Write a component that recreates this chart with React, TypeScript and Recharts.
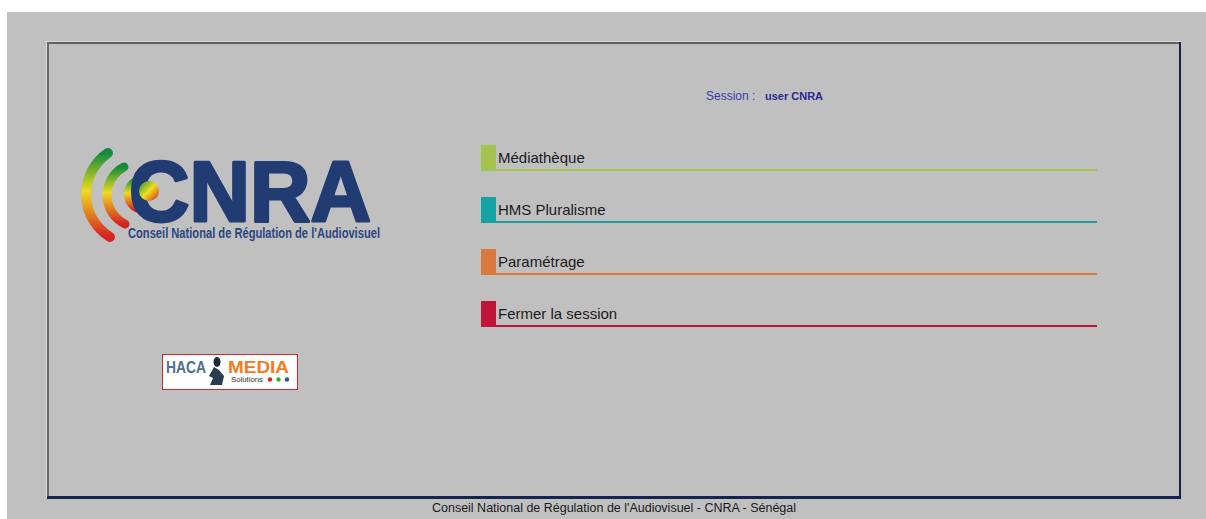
import React from "react";
import { BarChart, Bar, XAxis, YAxis } from "recharts";

const menuLabels = ["Médiathèque", "HMS Pluralisme", "Paramétrage", "Fermer la session"];
const menuColors = ["#a6c350", "#15a2a2", "#d97a3c", "#c01538"];
const menuValues = [1, 1, 1, 1];

const menuData = menuLabels.map((label, i) => ({
  label,
  value: menuValues[i],
  color: menuColors[i],
}));

const sans = "'Liberation Sans', Arial, sans-serif";

function MenuShape(props: any) {
  const { x, y, width, height, payload } = props;
  return (
    <g>
      <rect x={x} y={y} width={15} height={height} fill={payload.color} />
      <rect x={x} y={y + height - 2} width={width} height={2} fill={payload.color} />
      <text x={x + 17} y={y + 18} fontFamily={sans} fontSize={15} fill="#1b1b1b">
        {payload.label}
      </text>
    </g>
  );
}

function Backdrop() {
  return (
    <svg width={1206} height={519} style={{ position: "absolute", left: 0, top: 0 }}>
      <defs>
        <linearGradient id="arcGrad" x1="0" y1="0" x2="0" y2="1">
          <stop offset="0%" stopColor="#138a3c" />
          <stop offset="45%" stopColor="#eedc1e" />
          <stop offset="100%" stopColor="#d42222" />
        </linearGradient>
        <linearGradient id="ballGrad" x1="0" y1="0" x2="1" y2="1">
          <stop offset="0%" stopColor="#1a9040" />
          <stop offset="50%" stopColor="#f0e020" />
          <stop offset="100%" stopColor="#d42020" />
        </linearGradient>
      </defs>
      <rect x={0} y={0} width={1206} height={519} fill="#ffffff" />
      <rect x={7} y={12} width={1199} height={507} fill="#c0c0c0" />

      {/* frame */}
      <rect x={46} y={41} width={1135} height={1} fill="#d8d8d8" />
      <rect x={46} y={41} width={1} height={457} fill="#d8d8d8" />
      <rect x={47} y={42} width={1133} height={2} fill="#616161" />
      <rect x={47} y={42} width={2} height={455} fill="#6a6a6a" />
      <rect x={1179} y={42} width={2} height={457} fill="#14244a" />
      <rect x={47} y={496} width={1134} height={3} fill="#14244a" />

      {/* session */}
      <text x={706} y={100} fontFamily={sans} fontSize={12} fill="#3c3ca8">
        Session :
      </text>
      <text x={765} y={100} fontFamily={sans} fontSize={11} fontWeight="bold" fill="#2a2a90">
        user CNRA
      </text>

      {/* CNRA logo */}
      <path d="M 108 153 A 50 50 0 0 0 110 237" stroke="url(#arcGrad)" strokeWidth={10} fill="none" strokeLinecap="round" />
      <path d="M 124 167 A 32 32 0 0 0 125 224" stroke="url(#arcGrad)" strokeWidth={9} fill="none" strokeLinecap="round" />
      <path d="M 139 179 A 16 16 0 0 0 140 210" stroke="url(#arcGrad)" strokeWidth={7} fill="none" strokeLinecap="round" />
      <text x={129} y={221} fontFamily={sans} fontSize={86} fontWeight="bold" fill="#213b73" stroke="#213b73" strokeWidth={3} strokeLinejoin="round" textLength={242} lengthAdjust="spacingAndGlyphs">
        CNRA
      </text>
      <circle cx={149} cy={191} r={10} fill="url(#ballGrad)" />
      <text x={128} y={238} fontFamily="'Liberation Sans Narrow', 'Liberation Sans', sans-serif" fontSize={14} fontWeight="bold" fill="#2b4680" textLength={252} lengthAdjust="spacingAndGlyphs">
        Conseil National de Régulation de l'Audiovisuel
      </text>

      {/* HACA MEDIA logo */}
      <rect x={162.5} y={354.5} width={135} height={35} fill="#ffffff" stroke="#d22a2a" />
      <text x={166} y={373} fontFamily={sans} fontSize={17} fontWeight="bold" fill="#4d7090" textLength={40} lengthAdjust="spacingAndGlyphs">
        HACA
      </text>
      <ellipse cx={217} cy={362} rx={3.5} ry={5} fill="#1c2a3a" />
      <path d="M 214 367 L 209 376 L 213 378 L 210 385 L 222 385 L 224 376 L 219 370 Z" fill="#2a3c50" />
      <text x={228} y={373} fontFamily={sans} fontSize={17} fontWeight="bold" fill="#f27c22" textLength={61} lengthAdjust="spacingAndGlyphs">
        MEDIA
      </text>
      <text x={231} y={382} fontFamily={sans} fontSize={6.5} fill="#333" textLength={32} lengthAdjust="spacingAndGlyphs">
        Solutions
      </text>
      <circle cx={270} cy={379.5} r={2.2} fill="#e02020" />
      <circle cx={278.5} cy={379.5} r={2.2} fill="#30b030" />
      <circle cx={287} cy={379.5} r={2.2} fill="#3050b0" />

      {/* footer */}
      <text x={614} y={512} textAnchor="middle" fontFamily={sans} fontSize={12} fill="#1a1a1a" textLength={364} lengthAdjust="spacingAndGlyphs">
        Conseil National de Régulation de l'Audiovisuel - CNRA - Sénégal
      </text>
    </svg>
  );
}

export default function App() {
  return (
    <div style={{ position: "absolute", left: 0, top: 0, width: 1206, height: 519, overflow: "hidden" }}>
      <Backdrop />
      <div style={{ position: "absolute", left: 481, top: 132 }}>
        <BarChart
          layout="vertical"
          width={616}
          height={208}
          data={menuData}
          margin={{ top: 0, right: 0, bottom: 0, left: 0 }}
        >
          <XAxis type="number" domain={[0, 1]} hide />
          <YAxis type="category" dataKey="label" hide />
          <Bar dataKey="value" barSize={26} isAnimationActive={false} shape={<MenuShape />} />
        </BarChart>
      </div>
    </div>
  );
}
